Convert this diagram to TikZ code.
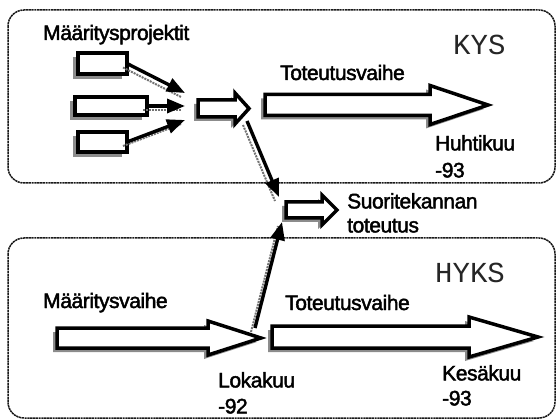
\documentclass[tikz,border=0pt]{standalone}
\usepackage{fontspec}
\setmainfont{Liberation Sans}
\newfontfamily\lblfont{Liberation Sans}[RawFeature={embolden=2}, LetterSpace=-2]
\newfontfamily\monofnt{Liberation Mono}
\usetikzlibrary{arrows.meta}

\tikzset{
  panel/.style={draw=black!90, line width=1.5pt, dash pattern=on 2.2pt off 0.6pt, rounded corners=16pt},
  boxshape/.style={draw=black, line width=3.5pt, fill=white, line join=miter},
  shadowfill/.style={fill=black!45},
  smallbox/.style={boxshape, inner sep=0pt, outer sep=0pt},
  conn/.style={line width=3.4pt, -{Triangle[length=18pt,width=14pt]}},
  connshadow/.style={draw=black!55, line width=2pt, densely dotted},
  lbl/.style={font=\lblfont\fontsize{21}{26}\selectfont, inner sep=0pt},
  site/.style={font=\monofnt\fontsize{29}{30}\selectfont, text=black!85, inner sep=0pt},
}

% block arrow: left x, centre y, half body, head start x, half head, tip x
\newcommand\blockarrow[6]{%
  \fill[shadowfill, shift={(-4pt,-4pt)}] (#1,#2-#3) -- (#4,#2-#3) -- (#4,#2-#5) -- (#6,#2) -- (#4,#2+#5) -- (#4,#2+#3) -- (#1,#2+#3) -- cycle;
  \draw[boxshape] (#1,#2-#3) -- (#4,#2-#3) -- (#4,#2-#5) -- (#6,#2) -- (#4,#2+#5) -- (#4,#2+#3) -- (#1,#2+#3) -- cycle;}

\begin{document}
\begin{tikzpicture}[x=1pt,y=-1pt]
\useasboundingbox (0,0) rectangle (556,419);

% panels
\draw[panel] (8,10) rectangle (555,183);
\draw[panel] (8,238) rectangle (555,418);

% small project boxes (shadows first)
\coordinate (c1) at (102.5,63.5);
\coordinate (c2) at (111,106);
\coordinate (c3) at (102.5,142);
\fill[shadowfill] (73,57.5) rectangle (122,79.5);
\fill[shadowfill] (70,101) rectangle (142,120);
\fill[shadowfill] (73,136) rectangle (122,157);
\node[smallbox, minimum width=49pt, minimum height=21pt] (r1) at (c1) {};
\node[smallbox, minimum width=72pt, minimum height=18pt] (r2) at (c2) {};
\node[smallbox, minimum width=49pt, minimum height=20pt] (r3) at (c3) {};

% block arrows
\blockarrow{198}{108.5}{8.5}{235}{15.5}{249}
\blockarrow{265}{105}{10.5}{430}{19.5}{488}
\blockarrow{286}{210}{8}{322}{15}{337}
\blockarrow{57}{338}{10}{208}{17}{261}
\blockarrow{272}{337}{11}{469}{20}{538}

% connector end points
\coordinate (m1) at (185,93);
\coordinate (m2) at (185,106);
\coordinate (m3) at (185,120);
\coordinate (d1) at (247,121);
\coordinate (d2) at (279,197);
\coordinate (u1) at (255,328);
\coordinate (u2) at (282,222);

% connector shadows
\draw[connshadow] ([shift={(-4pt,-4pt)}]r1.east) -- ([shift={(-4pt,-4pt)}]m1);
\draw[connshadow] ([shift={(-4pt,-4pt)}]r2.east) -- ([shift={(-4pt,-4pt)}]m2);
\draw[connshadow] ([shift={(-4pt,-4pt)}]r3.east) -- ([shift={(-4pt,-4pt)}]m3);
\draw[connshadow] ([shift={(-4pt,-4pt)}]d1) -- ([shift={(-4pt,-4pt)}]d2);
\draw[connshadow] ([shift={(-4pt,-4pt)}]u1) -- ([shift={(-4pt,-4pt)}]u2);

% connectors
\draw[conn] (r1.east) -- (m1);
\draw[conn] (r2.east) -- (m2);
\draw[conn] (r3.east) -- (m3);
\draw[conn] (d1) -- (d2);
\draw[conn] (u1) -- (u2);

% labels
\node[lbl, anchor=base west] (t1) at (43,40) {Määritysprojektit};
\node[lbl, anchor=base west] (t2) at (280,80) {Toteutusvaihe};
\node[site, anchor=base west] (kys) at (453,55) {KYS};
\node[lbl, anchor=north west, align=left, font=\lblfont\fontsize{21}{27}\selectfont] (t3) at (435,135) {Huhtikuu\\-93};
\node[lbl, anchor=north west, align=left, font=\lblfont\fontsize{21}{24}\selectfont] (t4) at (347,193) {Suoritekannan\\toteutus};
\node[site, anchor=base west] (hyks) at (435,283) {HYKS};
\node[lbl, anchor=base west] (t5) at (285,310) {Toteutusvaihe};
\node[lbl, anchor=base west] (t6) at (43,308) {Määritysvaihe};
\node[lbl, anchor=north west, align=left, font=\lblfont\fontsize{21}{26}\selectfont] (t7) at (218,372) {Lokakuu\\-92};
\node[lbl, anchor=north west, align=left, font=\lblfont\fontsize{21}{25}\selectfont] (t8) at (442,365) {Kesäkuu\\-93};
\end{tikzpicture}
\end{document}
